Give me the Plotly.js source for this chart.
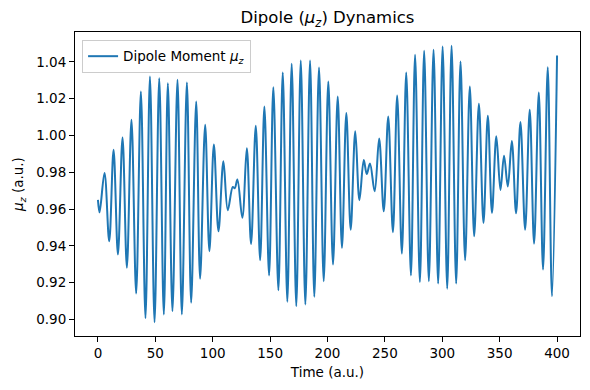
<!DOCTYPE html>
<html>
<head>
<meta charset="utf-8">
<script src="https://cdn.plot.ly/plotly-3.0.1.min.js"></script>
<style>
  html, body { margin: 0; padding: 0; background: #ffffff; }
  #chart { width: 590px; height: 390px; }
</style>
</head>
<body>
<div id="chart"></div>
<script>
// Turning points (peaks / troughs) of the dipole signal
const time = [
  0, 1.4, 5.7, 9.8, 13.6, 17.4, 21.4, 25.2, 29.2, 33.3, 37.4, 41.4, 45.3, 49.3, 53.4, 57.4,
  60.9, 64.9, 69.3, 73.1, 77.5, 81.2, 85.6, 89.0, 93.4, 97.1, 101.0, 105.0, 109.3, 113.1,
  117.5, 119.2, 121.5, 125.8, 129.7, 133.4, 137.5, 141.3, 145.0, 149.1, 152.8, 157.2,
  161.0, 165.0, 168.8, 172.8, 176.7, 180.7, 184.8, 188.5, 192.6, 196.7,
  200.7, 204.8, 208.9, 212.6, 216.4, 220.2, 224.2, 227.8, 231.6, 234.2, 237.0, 241.1,
  245.0, 249.0, 252.9, 257.0, 260.7, 264.8, 268.6, 272.7, 276.3,
  280.5, 284.2, 288.3, 292.4, 296.4, 300.3, 304.3, 308.1, 312.1, 315.9, 319.9, 324.0,
  327.8, 331.9, 335.9, 339.7,
  343.3, 347.1, 350.7, 353.8, 357.1, 360.6, 364.3, 368.1, 372.2, 376.2, 380.0, 384.1,
  387.8, 391.9, 395.6, 400
];
const dipole = [
  0.965, 0.9582, 0.9796, 0.9425, 0.9922, 0.9353, 0.9989, 0.9281, 1.0085, 0.9141, 1.0239, 0.9007, 1.0320, 0.8985, 1.0311, 0.9027,
  1.0284, 0.9045, 1.0302, 0.9027, 1.0288, 0.9091, 1.0185, 0.9221, 1.0058, 0.9371, 0.9950, 0.9479, 0.9859, 0.9594,
  0.9720, 0.9713, 0.9760, 0.9552, 0.9930, 0.9410, 1.0053, 0.9322, 1.0157, 0.9239, 1.0262, 0.9159,
  1.0342, 0.9096, 1.0389, 0.9072, 1.0407, 0.9081, 1.0407, 0.9123, 1.0369, 0.9208,
  1.0293, 0.9298, 1.0212, 0.9389, 1.0122, 0.9488, 1.0022, 0.9648, 0.9866, 0.9790, 0.9847, 0.9696,
  0.9983, 0.9588, 1.0103, 0.9474, 1.0217, 0.9358, 1.0342, 0.9239, 1.0438,
  0.9203, 1.0460, 0.9208, 1.0465, 0.9195, 1.0483, 0.9167, 1.0487, 0.9195, 1.0402, 0.9322, 1.0266,
  0.9452, 1.0172, 0.9525, 1.0107,
  0.9579, 0.9995, 0.9704, 0.9890, 0.9722, 0.9970, 0.9577, 1.0073, 0.9488, 1.0140, 0.9412, 1.0233,
  0.9271, 1.0371, 0.9126, 1.0434
];
const xTicks = [0, 50, 100, 150, 200, 250, 300, 350, 400];
const yTicks = [0.90, 0.92, 0.94, 0.96, 0.98, 1.00, 1.02, 1.04];
const seriesName = 'Dipole Moment <i>μ</i><sub><i>z</i></sub>';

const font = 'DejaVu Sans, Liberation Sans, sans-serif';

const trace = {
  x: time,
  y: dipole,
  type: 'scatter',
  mode: 'lines',
  name: seriesName,
  line: { color: '#1f77b4', width: 2, shape: 'spline', smoothing: 1 },
  showlegend: true
};

const layout = {
  width: 590,
  height: 390,
  margin: { l: 75, r: 10, t: 32, b: 54 },
  paper_bgcolor: '#ffffff',
  plot_bgcolor: '#ffffff',
  font: { family: font, size: 14, color: '#000000' },
  title: {
    text: 'Dipole (<i>μ</i><sub><i>z</i></sub>) Dynamics',
    font: { family: font, size: 16.5, color: '#000000' },
    x: 0.5, xref: 'paper', xanchor: 'center',
    y: 0.955, yref: 'container', yanchor: 'middle'
  },
  xaxis: {
    range: [-20, 420],
    tickvals: xTicks,
    ticktext: xTicks.map(String),
    showgrid: false, zeroline: false,
    showline: true, mirror: true, linecolor: '#000000', linewidth: 1,
    ticks: 'outside', ticklen: 5, tickwidth: 1, tickcolor: '#000000',
    tickfont: { family: font, size: 13.5 },
    title: { text: 'Time (a.u.)', font: { family: font, size: 13.5 }, standoff: 7 },
    automargin: false
  },
  yaxis: {
    range: [0.891, 1.0562],
    tickvals: yTicks,
    ticktext: yTicks.map(v => v.toFixed(2)),
    showgrid: false, zeroline: false,
    showline: true, mirror: true, linecolor: '#000000', linewidth: 1,
    ticks: 'outside', ticklen: 5, tickwidth: 1, tickcolor: '#000000',
    tickfont: { family: font, size: 13.5 },
    title: { text: '<i>μ</i><sub><i>z</i></sub> (a.u.)', font: { family: font, size: 13.5 }, standoff: 9 },
    automargin: false
  },
  showlegend: true,
  legend: {
    x: 0.014, y: 0.974, xanchor: 'left', yanchor: 'top',
    bgcolor: 'rgba(255,255,255,0.8)',
    bordercolor: '#cccccc', borderwidth: 1,
    font: { family: font, size: 13.5, color: '#000000' }
  }
};

Plotly.newPlot('chart', [trace], layout, { staticPlot: true, displayModeBar: false });
</script>
</body>
</html>
